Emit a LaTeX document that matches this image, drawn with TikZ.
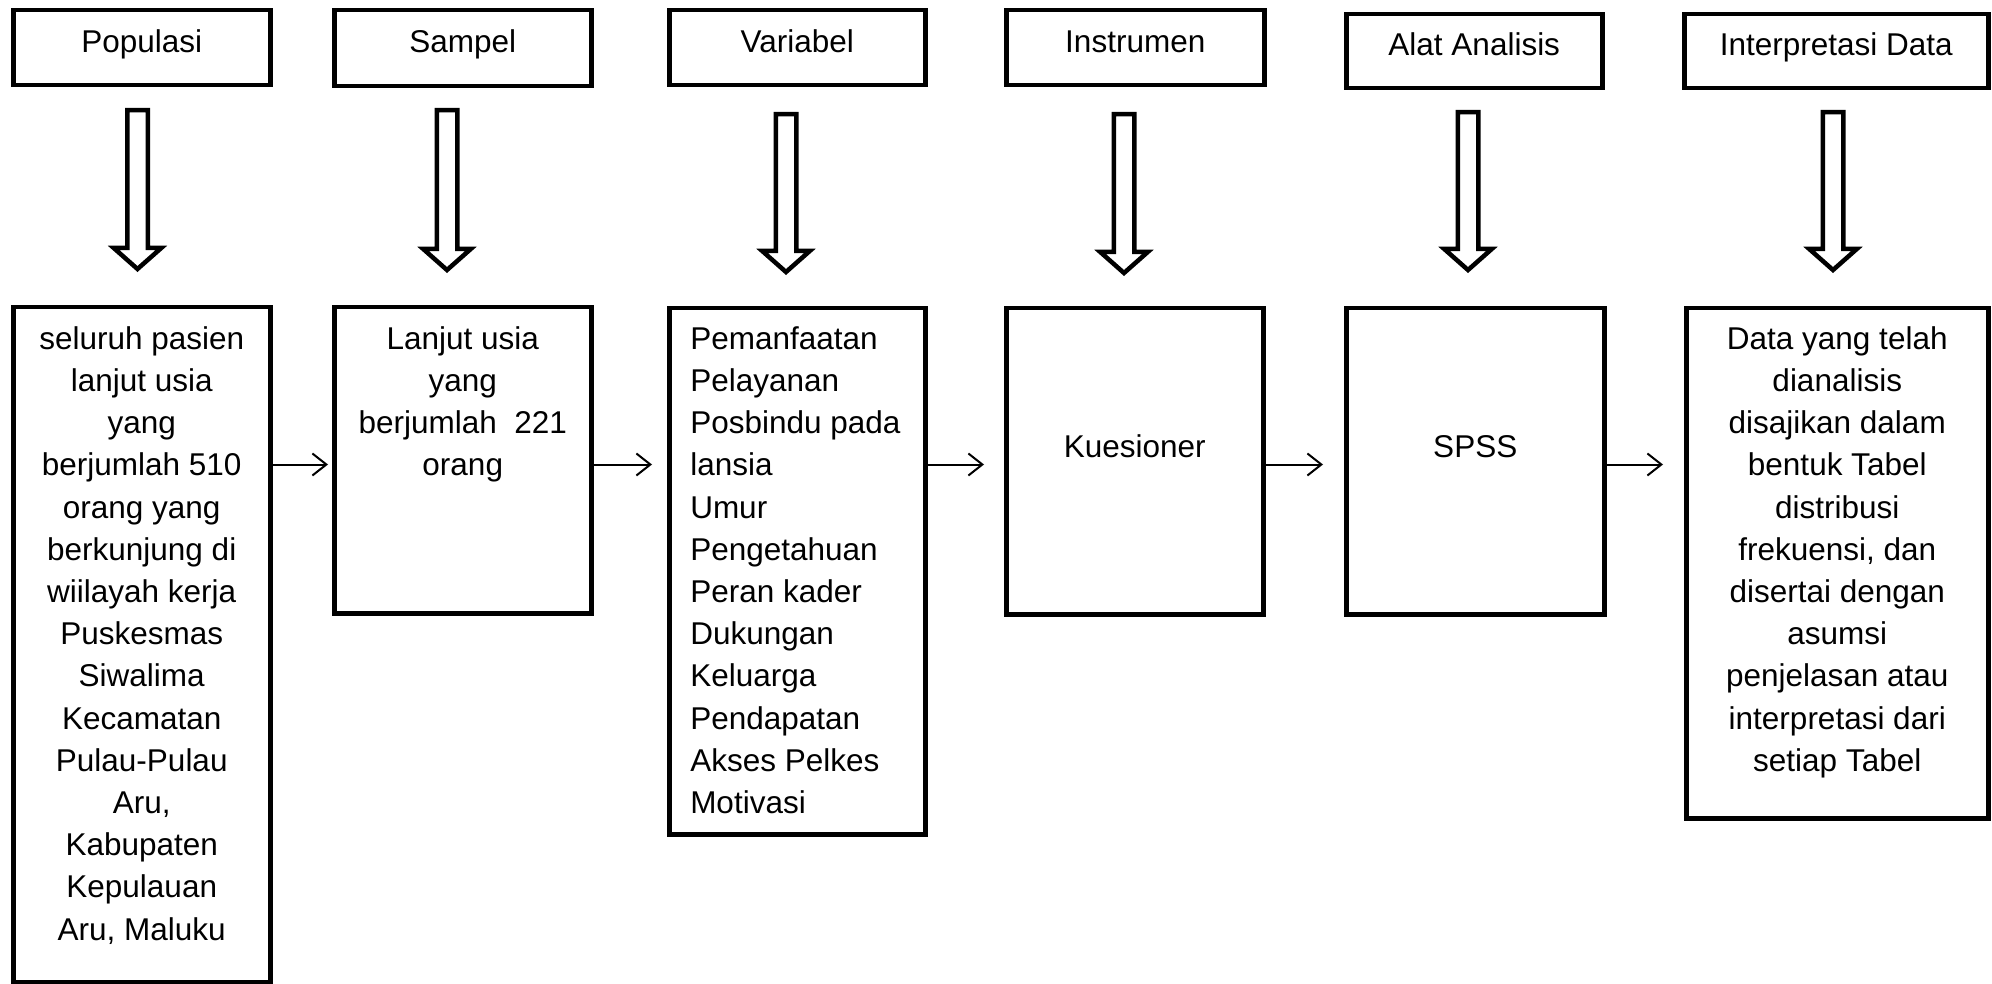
\documentclass[tikz,border=0pt]{standalone}
\usepackage{fontspec}
\setmainfont{Liberation Sans}
\usetikzlibrary{arrows.meta,calc}
\newcommand\bxtxt[4]{\parbox[t][#2][t]{#1}{\centering\rule{0pt}{#3}#4}}
\newcommand\hollowdown[1]{%
  \draw[hollow] ($(h#1)+(-10.25,0)$) -- ($(h#1)+(10.25,0)$) -- ($(k#1)+(10.25,21)$)
    -- ($(k#1)+(23.75,21)$) -- (k#1) -- ($(k#1)+(-23.75,21)$) -- ($(k#1)+(-10.25,21)$) -- cycle;}
\begin{document}
\begin{tikzpicture}[x=1pt,y=1pt,
  box/.style={draw, line width=4.5pt, inner sep=0pt, anchor=north west,
    font=\fontsize{31.5}{42.2}\selectfont},
  conn/.style={draw, line width=2pt, -{Straight Barb[length=14pt,width=22pt,line width=2pt]}},
  hollow/.style={draw, line width=4.5pt, fill=white, line join=miter}]
\useasboundingbox (0,0) rectangle (1992,-984);
% top boxes
\node[box] (t1) at (11,-8)   {\bxtxt{257pt}{75pt}{42pt}{Populasi}};
\node[box] (t2) at (332,-8)  {\bxtxt{257pt}{76pt}{42pt}{Sampel}};
\node[box] (t3) at (667,-8)  {\bxtxt{256pt}{75pt}{42pt}{Variabel}};
\node[box] (t4) at (1004,-8) {\bxtxt{258pt}{75pt}{42pt}{Instrumen}};
\node[box] (t5) at (1344,-12){\bxtxt{256pt}{74pt}{41pt}{Alat Analisis}};
\node[box] (t6) at (1682,-12){\bxtxt{304pt}{74pt}{41pt}{Interpretasi Data}};
% bottom boxes
\node[box] (b1) at (11,-305) {\bxtxt{257pt}{675pt}{42pt}{seluruh pasien\\lanjut usia\\yang\\berjumlah 510\\orang yang\\berkunjung di\\wiilayah kerja\\Puskesmas\\Siwalima\\Kecamatan\\Pulau-Pulau\\Aru,\\Kabupaten\\Kepulauan\\Aru, Maluku}};
\node[box] (b2) at (332,-305) {\bxtxt{257pt}{306pt}{42pt}{Lanjut usia\\yang\\berjumlah\ \ 221\\orang}};
\node[box] (b3) at (667,-306) {\parbox[t][526pt][t]{256pt}{\raggedright\leftskip=21pt\rule{0pt}{41pt}Pemanfaatan\\Pelayanan\\Posbindu pada\\lansia\\Umur\\Pengetahuan\\Peran kader\\Dukungan\\Keluarga\\Pendapatan\\Akses Pelkes\\Motivasi}};
\node[box] (b4) at (1004,-306) {\bxtxt{257pt}{306pt}{149pt}{Kuesioner}};
\node[box] (b5) at (1344,-306) {\bxtxt{258pt}{306pt}{149pt}{SPSS}};
\node[box] (b6) at (1684,-306) {\bxtxt{302pt}{510pt}{41pt}{Data yang telah\\dianalisis\\disajikan dalam\\bentuk Tabel\\distribusi\\frekuensi, dan\\disertai dengan\\asumsi\\penjelasan atau\\interpretasi dari\\setiap Tabel}};
% hollow arrows
\coordinate (h1) at (137.5,-110.25); \coordinate (k1) at (137.5,-269);
\coordinate (h2) at (447,-110.25);   \coordinate (k2) at (447,-270);
\coordinate (h3) at (786,-114.25);   \coordinate (k3) at (786,-272);
\coordinate (h4) at (1124,-114.25);  \coordinate (k4) at (1124,-273);
\coordinate (h5) at (1468,-112.25);  \coordinate (k5) at (1468,-270);
\coordinate (h6) at (1833,-112.25);  \coordinate (k6) at (1833,-270);
\hollowdown{1}\hollowdown{2}\hollowdown{3}\hollowdown{4}\hollowdown{5}\hollowdown{6}
% connectors
\coordinate (ay) at (0,-464.5);
\draw[conn, shorten >=4pt]  (b1.east |- ay) -- (b2.west |- ay);
\draw[conn, shorten >=15pt] (b2.east |- ay) -- (b3.west |- ay);
\draw[conn, shorten >=20pt] (b3.east |- ay) -- (b4.west |- ay);
\draw[conn, shorten >=21pt] (b4.east |- ay) -- (b5.west |- ay);
\draw[conn, shorten >=21pt] (b5.east |- ay) -- (b6.west |- ay);
\end{tikzpicture}
\end{document}
